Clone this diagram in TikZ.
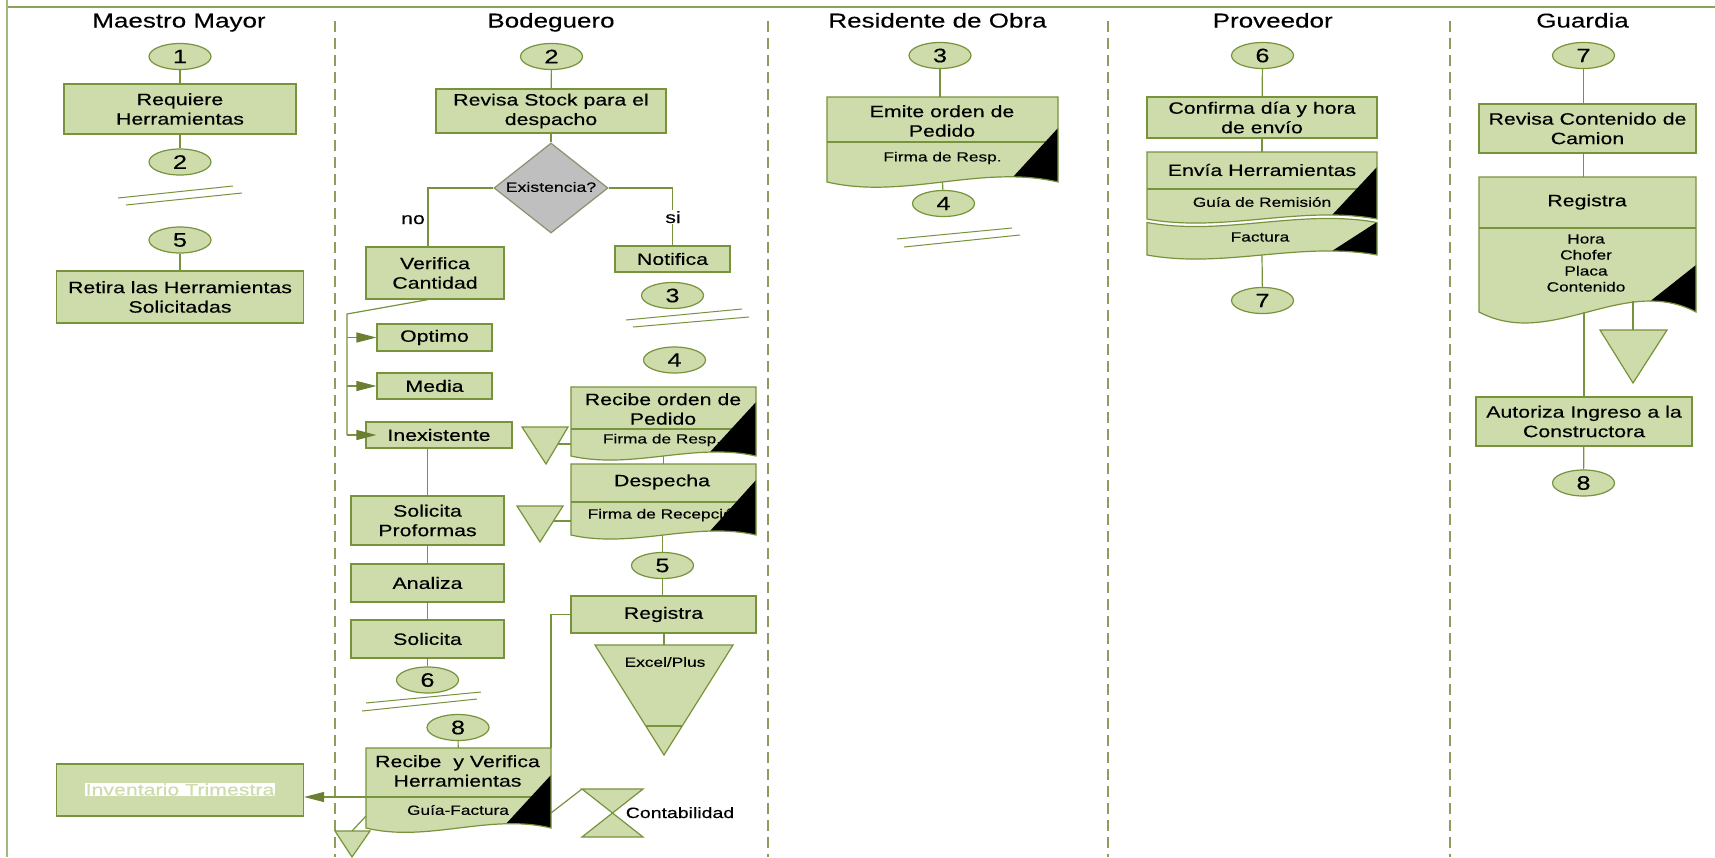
\documentclass[tikz,border=0pt]{standalone}
\usepackage{fontspec}
\setmainfont[FakeStretch=1.3,FakeBold=0.25]{Liberation Sans}
\usetikzlibrary{shapes.geometric,arrows.meta,calc}
\pgfdeclarelayer{back}
\pgfdeclarelayer{bg}
\pgfdeclarelayer{fg}
\pgfsetlayers{back,bg,main,fg}

\definecolor{fillg}{HTML}{CDDCAA}
\definecolor{edgeg}{HTML}{77933C}
\definecolor{arrowg}{HTML}{6A7F31}
\definecolor{dashg}{HTML}{8E9E5A}
\definecolor{topg}{HTML}{8CA25A}
\definecolor{leftg}{HTML}{A3B984}
\definecolor{diafill}{HTML}{BFBFBF}
\definecolor{diaedge}{HTML}{8A9070}

\newcommand\FMain{\fontsize{16.4}{19.5}\selectfont}
\newcommand\FHead{\fontsize{20}{24}\selectfont}
\newcommand\FNum{\fontsize{19.5}{22}\selectfont}
\newcommand\FSmall{\fontsize{13.3}{16}\selectfont}
\newcommand\FCont{\fontsize{15}{18}\selectfont}

% document symbol: #1 name, #2 left, #3 right, #4 top, #5 wave level,
% #6 wave depth, #7 top of the black corner, #8 foot x of the black corner
\newcommand\docbox[8]{%
  \node[docnode, minimum width={(#3-#2)*1pt}, minimum height={(#5-#4)*1pt}] (#1) at ({(#2+#3)/2},{(#4+#5)/2}) {};
  \begin{pgfonlayer}{bg}
    \fill[fillg] (#2,#4) -- (#3,#4) -- (#3,#5) .. controls ({#3-(#3-#2)/3},{#5-#6}) and ({#2+(#3-#2)/3},{#5+#6}) .. (#2,#5) -- cycle;
  \end{pgfonlayer}
  \begin{pgfonlayer}{fg}
    \begin{scope}
      \clip (#2,#4) -- (#3,#4) -- (#3,#5) .. controls ({#3-(#3-#2)/3},{#5-#6}) and ({#2+(#3-#2)/3},{#5+#6}) .. (#2,#5) -- cycle;
      \fill[black] ({#3+3},#7) -- (#3,#7) -- ({#3+1.6*(#8-#3)},{#7+1.6*(#5-0.28*#6-#7)}) -- ({#3+1.6*(#8-#3)},{#5+#6}) -- ({#3+3},{#5+#6}) -- cycle;
    \end{scope}
    \draw[edgeg, line width=1.2pt] (#2,#4) -- (#3,#4) -- (#3,#5) .. controls ({#3-(#3-#2)/3},{#5-#6}) and ({#2+(#3-#2)/3},{#5+#6}) .. (#2,#5) -- cycle;
  \end{pgfonlayer}
}

\begin{document}
\begin{tikzpicture}[x=1pt, y=-1pt,
  box/.style={rectangle, draw=edgeg, fill=fillg, line width=1.2pt, inner sep=0pt, align=center, font=\FMain, text=black},
  conn/.style={ellipse, draw=edgeg, fill=fillg, line width=1.2pt, minimum width=62pt, minimum height=26pt, inner sep=0pt, font=\FNum},
  line/.style={draw=edgeg, line width=1.2pt},
  arr/.style={line, -{Triangle[length=20pt,width=10pt,color=arrowg]}},
  brk/.style={draw=edgeg, line width=1pt},
  lbl/.style={inner sep=0pt, font=\FMain, text=black, align=center},
  small/.style={inner sep=0pt, font=\FSmall, text=black, align=center},
  head/.style={inner sep=0pt, font=\FHead, text=black},
  docnode/.style={rectangle, inner sep=0pt, outer sep=0pt},
  sym/.style={draw=edgeg, fill=fillg, line width=1.2pt},
  divider/.style={draw=dashg, line width=1.2pt, dash pattern=on 11pt off 6pt}]

\begin{pgfonlayer}{back}
  \fill[white] (0,0) rectangle (1715,857);
\end{pgfonlayer}
\useasboundingbox (0,0) rectangle (1715,857);

% frame and lane dividers
\draw[topg, line width=1.3pt] (7,7) -- (1715,7);
\draw[leftg, line width=1.5pt] (7,0) -- (7,857);
\draw[divider] (335,21) -- (335,857);
\draw[divider] (768,21) -- (768,857);
\draw[divider] (1108,21) -- (1108,857);
\draw[divider] (1450,21) -- (1450,857);

% lane titles
\node[head, anchor=base] (hMM) at (179,27.5) {Maestro Mayor};
\node[head, anchor=base] (hBod) at (551,27.5) {Bodeguero};
\node[head, anchor=base] (hRes) at (937.5,27.5) {Residente de Obra};
\node[head, anchor=base] (hProv) at (1272.7,27.5) {Proveedor};
\node[head, anchor=base] (hGua) at (1582.5,27.5) {Guardia};

% ---- Maestro Mayor
\node[conn] (c1) at (180,56.5) {1};
\node[box, minimum width=232pt, minimum height=50pt] (req) at (180,109) {Requiere\\Herramientas};
\node[conn] (c2a) at (180,162) {2};
\draw[brk] (118,198) -- (233,186);
\draw[brk] (126,205) -- (242,193);
\node[conn] (c5a) at (180,240) {5};
\node[box, minimum width=247pt, minimum height=52pt] (retira) at (180,297) {Retira las Herramientas\\Solicitadas};
\draw[line] (c1) -- (req);
\draw[line] (req) -- (c2a);
\draw[line] (c5a) -- (retira);
\node[box, minimum width=247pt, minimum height=52pt] (inv) at (180,790) {};
\node[font=\FMain, fill=white, text=fillg, inner sep=0.6pt] (invt) at (180,789.5) {Inventario Trimestra};

% ---- Bodeguero
\node[conn] (c2b) at (551.5,56.5) {2};
\node[box, minimum width=230pt, minimum height=44pt] (revisa) at (551,111) {Revisa Stock para el\\despacho};
\node[diamond, draw=diaedge, fill=diafill, line width=1.2pt, minimum width=114pt, minimum height=90pt, inner sep=0pt] (dia) at (551,188) {};
\node[small, font=\fontsize{13.6}{16}\selectfont] (diat) at (551,187) {Existencia?};
\node[box, minimum width=138pt, minimum height=52pt] (verifica) at (435,273) {Verifica\\Cantidad};
\node[box, minimum width=115pt, minimum height=26pt] (notifica) at (672.5,259) {Notifica};
\draw[line] (c2b) -- (revisa);
\draw[line] (revisa) -- (dia);
\draw[line] (dia.west) -| ([xshift=-7pt]verifica.north);
\draw[line] (dia.east) -| (notifica.north);
\node[lbl, anchor=base] (no) at (413,224) {no};
\node[lbl, anchor=base, fill=white, inner sep=1pt] (si) at (673,223) {si};

\node[conn] (c3b) at (672.5,295.5) {3};
\draw[brk] (626,320) -- (742,309);
\draw[brk] (633,327) -- (749,317);
\node[conn] (c4b) at (674.5,360) {4};

\node[box, minimum width=115pt, minimum height=27pt] (optimo) at (434.5,337.5) {Optimo};
\node[box, minimum width=115pt, minimum height=26pt] (media) at (434.5,386) {Media};
\node[box, minimum width=146pt, minimum height=26pt] (inex) at (439,435) {Inexistente};
\coordinate (vb) at (347,314);
\draw[line] ([xshift=-7pt]verifica.south) -- (vb) -- (vb |- inex.west);
\draw[arr] (vb |- optimo.west) -- (optimo.west);
\draw[arr] (vb |- media.west) -- (media.west);
\draw[arr] (vb |- inex.west) -- ([xshift=11pt]inex.west);

\node[box, minimum width=153pt, minimum height=49pt] (solprof) at (427.5,520.5) {Solicita\\Proformas};
\node[box, minimum width=153pt, minimum height=38pt] (analiza) at (427.5,583) {Analiza};
\node[box, minimum width=153pt, minimum height=38pt] (solicita) at (427.5,639) {Solicita};
\node[conn] (c6a) at (427.5,680) {6};
\draw[brk] (366,703) -- (481,692);
\draw[brk] (362,711) -- (477,699);
\node[conn] (c8b) at (458,727.5) {8};
\draw[line] (inex.south -| solprof.north) -- (solprof.north);
\draw[line] (solprof) -- (analiza);
\draw[line] (analiza) -- (solicita);
\draw[line] (solicita) -- (c6a);

% order received and dispatch
\docbox{recped}{571}{756}{387}{456}{14}{402}{710}
\draw[line] (571,429) -- (756,429);
\node[lbl] (recpedT) at (663,409) {Recibe orden de\\Pedido};
\node[small] (recpedS) at (662,440) {Firma de Resp.};
\docbox{desp}{571}{756}{464}{535}{14}{480}{710}
\draw[line] (571,502) -- (756,502);
\node[lbl] (despT) at (662,482) {Despecha};
\node[small] (despS) at (665,515) {Firma de Recepción};
\draw[line] (recped.south) -- (desp.north);

\draw[sym] (522,427) -- (568,427) -- (546,464) -- cycle;
\coordinate (t1) at (558,444);
\draw[line] (t1) -- (t1 -| recped.west);
\draw[sym] (517,506) -- (563,506) -- (540,542) -- cycle;
\coordinate (t2) at (553,521);
\draw[line] (t2) -- (t2 -| desp.west);

\node[conn] (c5b) at (662.5,565.5) {5};
\node[box, minimum width=185pt, minimum height=37pt] (breg) at (663.5,614.5) {Registra};
\draw[line] (desp.south -| c5b.north) -- (c5b.north);
\draw[line] (c5b.south) -- (c5b.south |- breg.north);
\draw[sym] (595,645) -- (733,645) -- (664,755) -- cycle;
\draw[line] (646,726) -- (682,726);
\node[small] (xlT) at (665,662) {Excel/Plus};
\coordinate (xl) at (664,645);
\draw[line] (breg.south -| xl) -- (xl);

% reception of tools
\docbox{rv}{366}{551}{748}{828}{15}{775}{506}
\draw[line] (366,797) -- (551,797);
\node[lbl] (rvT) at (457.5,771) {Recibe\ \ y Verifica\\Herramientas};
\node[small] (rvS) at (458,810) {Guía-Factura};
\draw[line] (breg.west) -| (rv.north east);
\draw[line] (c8b) -- (rv);
\draw[arr] ([yshift=-9pt]rv.west) -- ([yshift=-9pt]rv.west -| inv.east);
\draw[sym] (335,831) -- (370,831) -- (352,857) -- cycle;
\coordinate (t3) at (352,831);
\draw[line] ([yshift=-28pt]rv.west) -- (t3);
\draw[sym] (582,789) -- (643,789) -- (582,837) -- (643,837) -- cycle;
\coordinate (hg) at (582,789);
\draw[line] ([yshift=-25pt]rv.east) -- (hg);
\node[font=\FCont, inner sep=0pt, anchor=base] (cont) at (680,818) {Contabilidad};

% ---- Residente de Obra
\node[conn] (c3) at (940,55.5) {3};
\docbox{emite}{827}{1058}{97}{182}{18}{128}{1013}
\draw[line] (827,142) -- (1058,142);
\node[lbl] (emiteT) at (942,121) {Emite orden de\\Pedido};
\node[small] (emiteS) at (942.5,158) {Firma de Resp.};
\node[conn] (c4) at (943.5,203.5) {4};
\draw[line] (c3.south) -- (c3.south |- emite.north);
\draw[line] (emite.south) -- (c4);
\draw[brk] (897,239) -- (1012,228);
\draw[brk] (904,247) -- (1020,235);

% ---- Proveedor
\node[conn] (c6b) at (1262.5,55.5) {6};
\node[box, minimum width=230pt, minimum height=41pt] (confirma) at (1262,117.5) {Confirma día y hora\\de envío};
\docbox{envia}{1147}{1377}{152}{219}{14}{167}{1332}
\draw[line] (1147,189) -- (1377,189);
\node[lbl] (enviaT) at (1262,170) {Envía Herramientas};
\node[small] (enviaS) at (1262,202) {Guía de Remisión};
\node[docnode, minimum width=230pt, minimum height=32.5pt] (factura) at (1262,238.75) {};
\begin{pgfonlayer}{bg}
  \fill[fillg] (1147,222.5) .. controls (1223.7,236.5) and (1300.3,208.5) .. (1377,222.5) -- (1377,255) .. controls (1300.3,241) and (1223.7,269) .. (1147,255) -- cycle;
\end{pgfonlayer}
\begin{pgfonlayer}{fg}
  \begin{scope}
    \clip (1147,222.5) .. controls (1223.7,236.5) and (1300.3,208.5) .. (1377,222.5) -- (1377,255) .. controls (1300.3,241) and (1223.7,269) .. (1147,255) -- cycle;
    \fill[black] (1380,222) -- (1377,222) -- (1305,268.4) -- (1305,275) -- (1380,275) -- cycle;
  \end{scope}
  \draw[edgeg, line width=1.2pt] (1147,222.5) .. controls (1223.7,236.5) and (1300.3,208.5) .. (1377,222.5) -- (1377,255) .. controls (1300.3,241) and (1223.7,269) .. (1147,255) -- cycle;
\end{pgfonlayer}
\node[small] (factT) at (1260,237) {Factura};
\node[conn] (c7a) at (1262.5,300.5) {7};
\draw[line] (c6b) -- (confirma);
\draw[line] (confirma) -- (envia);
\draw[line] (factura.south) -- (c7a);

% ---- Guardia
\node[conn] (c7b) at (1583.5,55.5) {7};
\node[box, minimum width=217pt, minimum height=49pt] (revcont) at (1587.5,128.5) {Revisa Contenido de\\Camion};
\docbox{greg}{1479}{1696}{177}{312}{38}{265}{1650}
\draw[line] (1479,228) -- (1696,228);
\node[lbl] (gregT) at (1587,202) {Registra};
\node[small] (gregS) at (1586,263) {Hora\\Chofer\\Placa\\Contenido};
\draw[sym] (1600,330) -- (1667,330) -- (1633,383) -- cycle;
\coordinate (gt) at (1633,330);
\node[box, minimum width=216pt, minimum height=49pt] (autoriza) at (1584,421.5) {Autoriza Ingreso a la\\Constructora};
\node[conn] (c8a) at (1583.5,483) {8};
\draw[line] (c7b.south) -- (c7b.south |- revcont.north);
\draw[line] (c7b.south |- revcont.south) -- (c7b.south |- greg.north);
\draw[line] (autoriza.north |- greg.south) -- (autoriza.north);
\draw[line] ([yshift=29pt]gt) -- (gt);
\draw[line] (autoriza) -- (c8a);

\end{tikzpicture}
\end{document}
